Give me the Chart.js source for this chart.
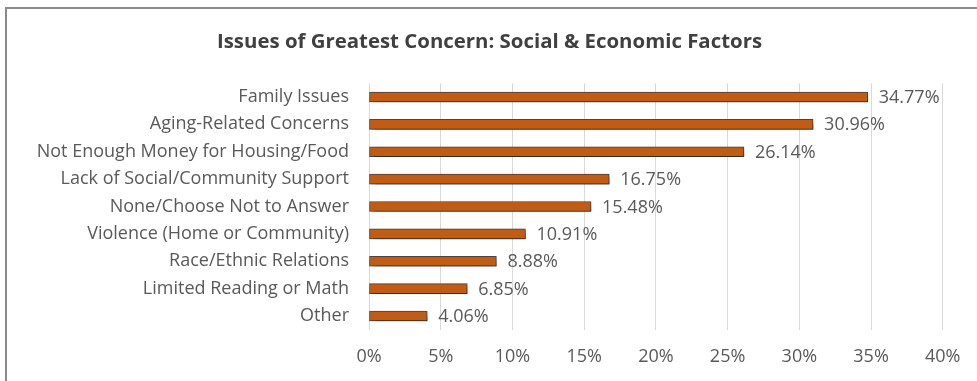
<!DOCTYPE html>
<html>
<head>
<meta charset="utf-8">
<script src="https://cdn.jsdelivr.net/npm/chart.js@4/dist/chart.umd.min.js"></script>
<style>
  html, body { margin: 0; padding: 0; background: #fff; }
  #wrap { position: relative; width: 977px; height: 381px; overflow: hidden; }
  #frame {
    position: absolute; left: 5px; top: 7px; width: 990px; height: 400px;
    border-top: 2px solid #8a8a8a; border-left: 2px solid #8a8a8a;
  }
  canvas { position: absolute; left: 0; top: 0; }
</style>
</head>
<body>
<div id="wrap">
  <div id="frame"></div>
  <canvas id="myChart" width="977" height="381"></canvas>
</div>
<script>
const categories = [
  'Family Issues',
  'Aging-Related Concerns',
  'Not Enough Money for Housing/Food',
  'Lack of Social/Community Support',
  'None/Choose Not to Answer',
  'Violence (Home or Community)',
  'Race/Ethnic Relations',
  'Limited Reading or Math',
  'Other',
];
const percentages = [34.77, 30.96, 26.14, 16.75, 15.48, 10.91, 8.88, 6.85, 4.06];
const tickValues = [0, 5, 10, 15, 20, 25, 30, 35, 40];
const chartTitle = 'Issues of Greatest Concern: Social & Economic Factors';

const FONT = "'Open Sans', sans-serif";
const TEXT = '#595959';

// title centred on the whole canvas, not just the plot area
const centredTitle = {
  id: 'centredTitle',
  afterDraw(chart) {
    const c = chart.ctx;
    c.save();
    c.font = 'bold 20.4px ' + FONT;
    c.fillStyle = '#404040';
    c.textAlign = 'center';
    c.textBaseline = 'middle';
    c.fillText(chartTitle, chart.width / 2 + 1, 42);
    c.restore();
  },
};

// soft drop shadow under each bar
const barShadow = {
  id: 'barShadow',
  beforeDatasetsDraw(chart) {
    const c = chart.ctx;
    c.save();
    c.shadowColor = 'rgba(0,0,0,0.55)';
    c.shadowBlur = 7;
    c.shadowOffsetX = 3;
    c.shadowOffsetY = 4;
  },
  afterDatasetsDraw(chart) {
    chart.ctx.restore();
  },
};

// value text at the end of each bar
const valueLabels = {
  id: 'valueLabels',
  afterDatasetsDraw(chart) {
    const c = chart.ctx;
    const meta = chart.getDatasetMeta(0);
    c.save();
    c.font = '18px ' + FONT;
    c.fillStyle = TEXT;
    c.textAlign = 'left';
    c.textBaseline = 'middle';
    meta.data.forEach((bar, i) => {
      c.fillText(percentages[i].toFixed(2) + '%', bar.x + 11, bar.y + 1);
    });
    c.restore();
  },
};

const ctx = document.getElementById('myChart').getContext('2d');

const chart = new Chart(ctx, {
  type: 'bar',
  data: {
    labels: categories,
    datasets: [
      {
        data: percentages,
        backgroundColor: '#c55a11',
        borderColor: '#4a4a4a',
        borderWidth: 1,
        borderSkipped: false,
        barThickness: 10,
      },
    ],
  },
  options: {
    indexAxis: 'y',
    responsive: false,
    animation: false,
    layout: { padding: { left: 0, right: 30, top: 83.3, bottom: 0 } },
    plugins: {
      legend: { display: false },
      tooltip: { enabled: false },
      title: { display: false },
    },
    scales: {
      x: {
        min: 0,
        max: 40,
        afterBuildTicks(scale) {
          scale.ticks = tickValues.map((v) => ({ value: v }));
        },
        afterFit(scale) {
          scale.height = 51.3;
        },
        grid: { color: '#d9d9d9', drawTicks: false },
        border: { display: false },
        ticks: {
          padding: 16.5,
          color: TEXT,
          font: { family: FONT, size: 18 },
          callback: (value) => value + '%',
        },
      },
      y: {
        afterFit(scale) {
          scale.width = 369;
        },
        grid: { display: false, drawTicks: false },
        border: { display: false },
        ticks: {
          padding: 20,
          color: TEXT,
          font: { family: FONT, size: 18 },
        },
      },
    },
  },
  plugins: [barShadow, valueLabels, centredTitle],
});
</script>
</body>
</html>
